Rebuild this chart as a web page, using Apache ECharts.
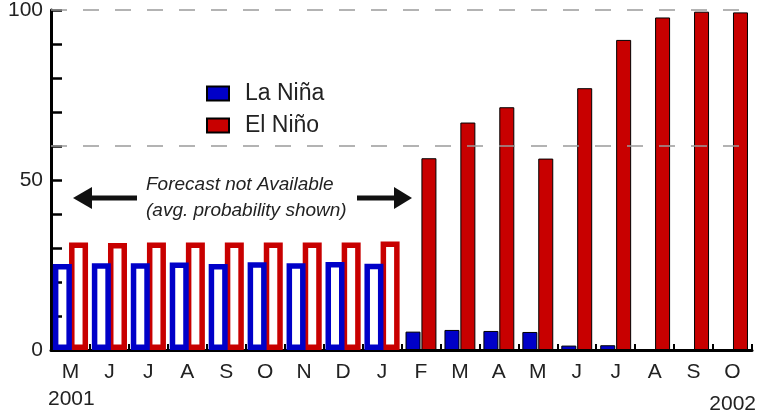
<!DOCTYPE html>
<html><head><meta charset="utf-8">
<script src="https://cdn.jsdelivr.net/npm/echarts@6/dist/echarts.min.js"></script>
<style>html,body{margin:0;padding:0;background:#fff}#c{width:758px;height:416px}</style>
</head><body><div id="c"></div>
<script>
// ---- data ----
const months = ['M','J','J','A','S','O','N','D','J','F','M','A','M','J','J','A','S','O'];
const laNina = [25.3,25.5,25.5,25.7,25.3,25.8,25.5,25.9,25.4, 5.4,5.9,5.6,5.3,1.3,1.4,0,0,0];
const elNino = [31.6,31.5,31.6,31.6,31.6,31.6,31.6,31.6,31.9, 56.4,66.9,71.4,56.3,77.0,91.2,97.8,99.5,99.3];
const firstForecastIndex = 9;          // months before this show the average probability
const yLabelValues = [0, 50, 100];
const refLines = [60, 100];
const startYear = '2001';
const endYear = '2002';

const BLUE = '#0000c8', RED = '#c80000';
const FONT = 'Liberation Sans, Arial, sans-serif';
const txt = '#222';

const avgPart = arr => arr.map((v, i) => i < firstForecastIndex ? v : null);
const fcPart = arr => arr.map((v, i) => i >= firstForecastIndex ? v : null);

const xBase = {
  type: 'category', data: months,
  axisLine: { lineStyle: { color: '#000', width: 3 } },
  axisTick: { show: true, inside: true, length: 6, lineStyle: { color: '#000', width: 2 } },
  axisLabel: { interval: 0, fontSize: 21, margin: 12, color: txt, fontFamily: FONT },
  splitLine: { show: false }
};

const chart = echarts.init(document.getElementById('c'), null, { renderer: 'canvas' });
chart.setOption({
  animation: false,
  backgroundColor: '#ffffff',
  grid: { left: 51, right: 6, top: 10, bottom: 66, containLabel: false, outerBoundsMode: 'none' },
  legend: {
    data: ['La Niña', 'El Niño'],
    orient: 'vertical', left: 206, top: 82, padding: 0,
    itemWidth: 22, itemHeight: 14, itemGap: 9, icon: 'rect',
    textStyle: { fontSize: 23, color: txt, fontFamily: FONT, padding: [0, 0, 0, 11] }
  },
  xAxis: [
    xBase,
    Object.assign({}, xBase, { show: false })
  ],
  yAxis: {
    type: 'value', min: 0, max: 100, interval: 10,
    axisLine: { show: true, lineStyle: { color: '#000', width: 3 } },
    axisTick: { show: true, inside: true, length: 11, lineStyle: { color: '#000', width: 2.5 } },
    axisLabel: { fontSize: 21, margin: 8, color: txt, fontFamily: FONT,
      formatter: v => yLabelValues.includes(v) ? String(v) : '' },
    splitLine: { show: false }
  },
  series: [
    { name: 'La Niña', type: 'bar', xAxisIndex: 0, barWidth: 15, barGap: '6%',
      itemStyle: { color: BLUE, borderColor: '#000', borderWidth: 1 },
      data: fcPart(laNina) },
    { name: 'El Niño', type: 'bar', xAxisIndex: 0, barWidth: 15,
      itemStyle: { color: RED, borderColor: '#000', borderWidth: 1 },
      data: fcPart(elNino),
      markLine: { silent: true, symbol: 'none', label: { show: false },
        lineStyle: { color: '#9a9a9a', type: [16, 16], width: 1.5 },
        data: refLines.map(v => ({ yAxis: v })) } },
    { name: 'La Niña', type: 'bar', xAxisIndex: 1, barWidth: 19, barGap: '-15%', z: 3,
      itemStyle: { color: 'rgba(255,255,255,0)', borderColor: BLUE, borderWidth: 5.5 },
      data: avgPart(laNina) },
    { name: 'El Niño', type: 'bar', xAxisIndex: 1, barWidth: 19, z: 2,
      itemStyle: { color: '#ffffff', borderColor: RED, borderWidth: 5.5 },
      data: avgPart(elNino) }
  ],
  graphic: [
    { type: 'text', left: 48, top: 389, style: { text: startYear, fontSize: 21, fill: txt, fontFamily: FONT } },
    { type: 'text', right: 2, top: 394, style: { text: endYear, fontSize: 21, fill: txt, fontFamily: FONT } },
    { type: 'text', left: 146, top: 175, style: { text: 'Forecast not Available', fontSize: 19, fontStyle: 'italic', fill: txt, fontFamily: FONT } },
    { type: 'text', left: 146, top: 201, style: { text: '(avg. probability shown)', fontSize: 19, fontStyle: 'italic', fill: txt, fontFamily: FONT } },
    { type: 'rect', shape: { x: 90, y: 195.5, width: 47, height: 5 }, style: { fill: '#111' } },
    { type: 'polygon', shape: { points: [[73, 198], [92, 187], [92, 209]] }, style: { fill: '#111' } },
    { type: 'rect', shape: { x: 357, y: 195.5, width: 40, height: 5 }, style: { fill: '#111' } },
    { type: 'polygon', shape: { points: [[412, 198], [394, 187], [394, 209]] }, style: { fill: '#111' } }
  ]
});
</script></body></html>
